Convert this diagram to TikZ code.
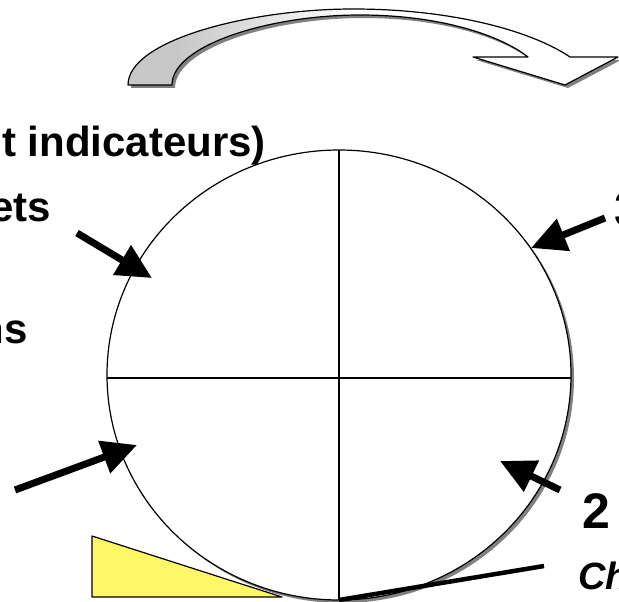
\documentclass[tikz,border=0pt]{standalone}
\usepackage{fontspec}
\setmainfont{Liberation Sans}
\usetikzlibrary{arrows.meta}
\pgfdeclarehorizontalshading{bandshade}{100bp}{color(0bp)=(black!22); color(30bp)=(black!22); color(48bp)=(white); color(100bp)=(white)}
\tikzset{
  bigarrow/.style={line width=7pt,-{Triangle[length=35pt,width=33pt]}},
  lbl/.style={inner sep=0pt,font=\bfseries\fontsize{42}{48}\selectfont},
  numlbl/.style={inner sep=0pt,font=\bfseries\fontsize{50}{54}\selectfont},
  shadowcol/.style={fill=black!50,draw=black!50}
}
\begin{document}
\begin{tikzpicture}[x=1pt,y=-1pt]
\useasboundingbox (0,0) rectangle (619,602);
\clip (0,0) rectangle (619,602);
\fill[white] (0,0) rectangle (619,602);

% curved block arrow (top)
\def\bandpath{(128,85) -- (172,85) .. controls (172,45) and (270,15) .. (360,15)
  .. controls (440,15) and (500,35) .. (528,57) -- (473,57) -- (565,85) -- (618,57) -- (570,57)
  .. controls (530,30) and (450,9) .. (353,9) .. controls (250,9) and (128,40) .. (128,85) -- cycle}
\fill[black!50,shift={(3pt,-3pt)}] \bandpath;
\shade[shading=bandshade] \bandpath;
\draw[line width=1.2pt,line join=round] \bandpath;

% circle with shadow
\fill[black!50] (342,378) ellipse [x radius=232, y radius=225];
\draw[line width=1.2pt,fill=white] (339,375) ellipse [x radius=232, y radius=225];
\coordinate (ctop) at (339,150);
\coordinate (cbot) at (339,600);
\coordinate (cleft) at (107,378);
\coordinate (cright) at (571,378);
\draw[line width=1.2pt] (ctop) -- (cbot);
\draw[line width=1.2pt] (cleft) -- (cright);

% yellow wedge
\filldraw[fill=yellow!60,draw=black,line width=1.2pt,line join=round] (92,536) -- (92,597) -- (282,597) -- cycle;

% tangent line
\coordinate (tanA) at (339,600);
\coordinate (tanB) at (544,566);
\draw[line width=4.5pt] (tanA) -- (tanB);

% arrows
\coordinate (a1s) at (77,233);  \coordinate (a1e) at (152,278);
\coordinate (a2s) at (15,490);  \coordinate (a2e) at (137,445);
\coordinate (a3s) at (605,218); \coordinate (a3e) at (531,248);
\coordinate (a4s) at (560,490); \coordinate (a4e) at (500,461);
\draw[bigarrow] (a1s) -- (a1e);
\draw[bigarrow] (a2s) -- (a2e);
\draw[bigarrow] (a3s) -- (a3e);
\draw[bigarrow] (a4s) -- (a4e);

% texts
\node[lbl,anchor=base east] (t1) at (266,157) {t indicateurs)};
\node[lbl,anchor=base east] (t2) at (51,221) {ets};
\node[lbl,anchor=base east] (t3) at (28,343) {ns};
\node[numlbl,anchor=base west] (t4) at (614,226) {3};
\node[numlbl,anchor=base west] (t5) at (582,528) {2};
\node[inner sep=0pt,anchor=base west,font=\bfseries\itshape\fontsize{38}{42}\selectfont] (t6) at (578,589) {Ch};
\end{tikzpicture}
\end{document}
